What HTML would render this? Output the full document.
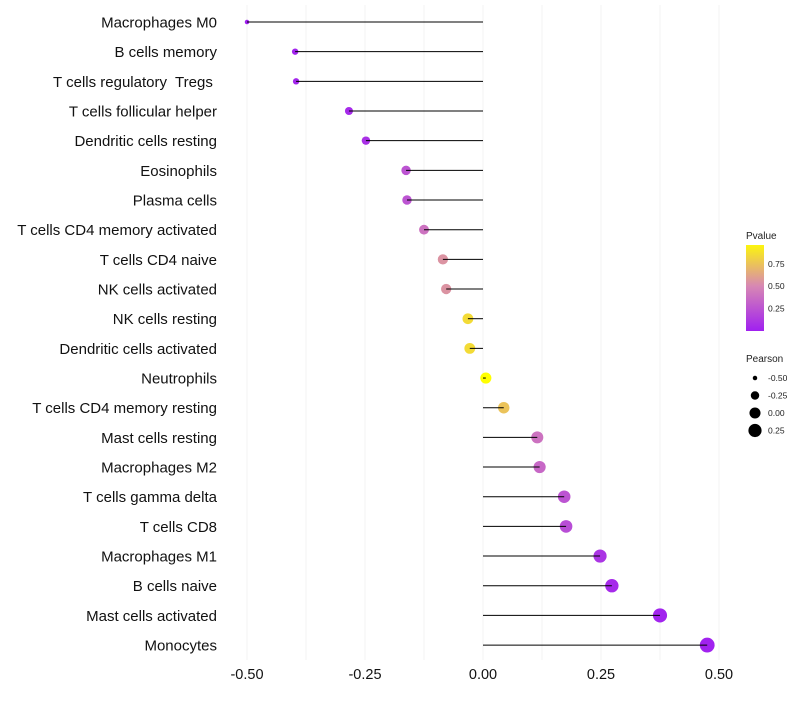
<!DOCTYPE html>
<html><head><meta charset="utf-8"><style>
body{margin:0;background:#fff;font-family:"Liberation Sans",sans-serif}
text{white-space:pre}
</style></head><body>
<svg id="chart" width="800" height="700" xmlns="http://www.w3.org/2000/svg" font-family="Liberation Sans, sans-serif">
<g id="grid"></g>
<g id="marks"></g>
<g id="ylab"></g>
<g id="xlab"></g>
<g id="legend"></g>
</svg>
<script>
const cells = ["Macrophages M0","B cells memory","T cells regulatory  Tregs ","T cells follicular helper","Dendritic cells resting","Eosinophils","Plasma cells","T cells CD4 memory activated","T cells CD4 naive","NK cells activated","NK cells resting","Dendritic cells activated","Neutrophils","T cells CD4 memory resting","Mast cells resting","Macrophages M2","T cells gamma delta","T cells CD8","Macrophages M1","B cells naive","Mast cells activated","Monocytes"];
const pearson = [-0.50,-0.398,-0.396,-0.284,-0.248,-0.163,-0.161,-0.125,-0.085,-0.078,-0.032,-0.028,0.006,0.044,0.115,0.12,0.172,0.176,0.248,0.273,0.375,0.475];
const pvalue = [0.0,0.02,0.03,0.05,0.08,0.25,0.25,0.4,0.55,0.55,0.85,0.85,1.0,0.75,0.4,0.35,0.25,0.22,0.1,0.05,0.02,0.01];
const xTicks = [-0.5,-0.25,0,0.25,0.5];
const xTickLabels = ["-0.50","-0.25","0.00","0.25","0.50"];
const legP = [0.75,0.50,0.25];
const legPearson = [-0.50,-0.25,0.00,0.25];

const NS="http://www.w3.org/2000/svg";
const x = v => 483 + v*472;
const y = i => 22 + i*29.67;
const r = v => Math.sqrt(5 + (v+0.5)/0.975*50);
function lerp(a,b,t){return a.map((c,i)=>Math.round(c+(b[i]-c)*t));}
function col(p){const s0=[160,32,240],s1=[215,135,180],s2=[255,255,0];
 const c=p<0.5?lerp(s0,s1,p/0.5):lerp(s1,s2,(p-0.5)/0.5);return `rgb(${c})`;}
function mk(tag,attrs,parent,text){const e=document.createElementNS(NS,tag);for(const k in attrs)e.setAttribute(k,attrs[k]);if(text!==undefined)e.textContent=text;document.getElementById(parent).appendChild(e);return e;}

for(let v=-0.5;v<=0.5001;v+=0.125){
 const g=mk('line',{x1:x(v),x2:x(v),y1:5,y2:660,stroke:'#f3f3f3','stroke-width':1},'grid');
 
 
}
xTicks.forEach((t,i)=>{
 const e=mk('text',{x:x(t),y:679,'text-anchor':'middle','font-size':14.5,fill:'#111'},'xlab',xTickLabels[i]);
 
 
});
cells.forEach((c,i)=>{
 const t=mk('text',{x:217,y:y(i)+5.5,'text-anchor':'end','font-size':15,fill:'#111'},'ylab',c);
 
 
 const d=mk('circle',{cx:x(pearson[i]),cy:y(i),r:r(pearson[i]),fill:col(pvalue[i])},'marks');
 
 
 const l=mk('line',{x1:x(0),x2:x(pearson[i]),y1:y(i),y2:y(i),stroke:'#000','stroke-width':1},'marks');
 
 
});
const lg=document.getElementById('legend');
lg.innerHTML='<defs><linearGradient id="pg" x1="0" y1="1" x2="0" y2="0"><stop offset="0" stop-color="'+col(0)+'"/><stop offset="0.52" stop-color="'+col(0.5)+'"/><stop offset="1" stop-color="'+col(0.96)+'"/></linearGradient></defs>';
const pt=mk('text',{x:746,y:239,'font-size':10,fill:'#222'},'legend','Pvalue');


const bar=mk('rect',{x:746,y:245,width:18,height:86,fill:'url(#pg)'},'legend');


legP.forEach(p=>{
 const yy=331-(p/0.96)*86;
 const tk=mk('text',{x:768,y:yy+3,'font-size':8.5,fill:'#222'},'legend',p.toFixed(2));
 
 
});
const st=mk('text',{x:746,y:362,'font-size':10,fill:'#222'},'legend','Pearson');


legPearson.forEach((p,i)=>{
 const yy=378+i*17.5;
 const c=mk('circle',{cx:755,cy:yy,r:r(p),fill:'#000'},'legend');
 
 
 const tx=mk('text',{x:768,y:yy+3,'font-size':8.5,fill:'#222'},'legend',p.toFixed(2));
 
 
});
</script>
</body></html>
